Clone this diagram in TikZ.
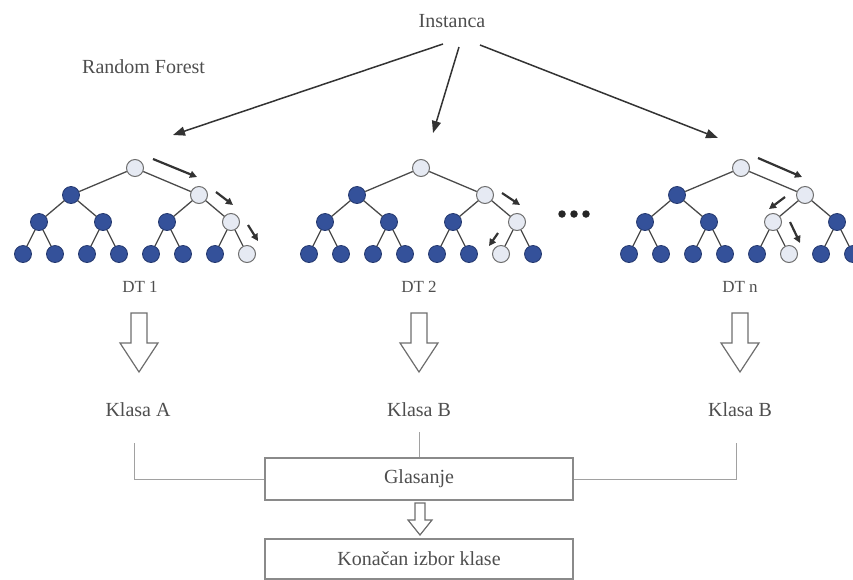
\documentclass[tikz,border=0pt]{standalone}
\usepackage{fontspec}
\setmainfont{Liberation Serif}
\usetikzlibrary{arrows.meta,calc}
\definecolor{txt}{HTML}{4E4E4E}
\definecolor{nodeblue}{HTML}{34519A}
\definecolor{nodeblueline}{HTML}{24386E}
\definecolor{nodelight}{HTML}{E6EAF3}
\definecolor{edgegray}{HTML}{4A4A4A}
\definecolor{boxgray}{HTML}{8A8A8A}
\definecolor{arrowdark}{HTML}{333333}
\tikzset{
  lbl/.style={font=\fontsize{20}{23}\selectfont, text=txt, inner sep=2pt},
  dtlbl/.style={font=\fontsize{17}{20}\selectfont, text=txt, inner sep=2pt},
  dk/.style={circle, minimum size=17pt, inner sep=0pt, fill=nodeblue, draw=nodeblueline, line width=0.8pt},
  lt/.style={circle, minimum size=17pt, inner sep=0pt, fill=nodelight, draw=edgegray!80, line width=1pt},
  edge/.style={draw=edgegray, line width=1.3pt},
  mainarrow/.style={draw=arrowdark, line width=1.5pt, -{Triangle[length=12pt,width=9pt]}},
  tarrow/.style={draw=arrowdark, line width=2.2pt, -{Triangle[length=7pt,width=7pt]}},
  hollow/.style={draw=boxgray!80!black, line width=1.2pt, fill=white, line join=miter},
  conn/.style={draw=boxgray!80, line width=1pt},
  votebox/.style={draw=boxgray, line width=1.6pt, minimum width=308pt, font=\fontsize{20}{23}\selectfont, text=txt},
  bigdown/.pic={\draw[hollow] (-8,0) -- (8,0) -- (8,30) -- (19,30) -- (0,59) -- (-19,30) -- (-8,30) -- cycle;},
  smalldown/.pic={\draw[hollow] (-5,0) -- (5,0) -- (5,17) -- (12,17) -- (0,32) -- (-12,17) -- (-5,17) -- cycle;}
}
\begin{document}
\begin{tikzpicture}[x=1pt,y=-1pt]
\useasboundingbox (0,0) rectangle (853,579);

% titles
\node[lbl] (inst) at (452,21) {Instanca};
\node[lbl, anchor=west] (rf) at (80,67) {Random Forest};

% trees
\foreach \t/\rx/\la/\lb/\lc in {1/135/3/7/15, 2/421/3/7/14, 3/741/3/6/13}{
  \foreach \i/\d/\k in {1/0/0, 2/1/0, 3/1/1, 4/2/0, 5/2/1, 6/2/2, 7/2/3,
                        8/3/0, 9/3/1, 10/3/2, 11/3/3, 12/3/4, 13/3/5, 14/3/6, 15/3/7}{
    \pgfmathsetmacro\xx{\rx + (\k+0.5)*256/(2^\d) - 128}
    \pgfmathsetmacro\yy{{168,195,222,254}[\d]}
    \def\st{dk}
    \ifnum\i=1 \def\st{lt}\fi
    \ifnum\i=\la\relax \def\st{lt}\fi
    \ifnum\i=\lb\relax \def\st{lt}\fi
    \ifnum\i=\lc\relax \def\st{lt}\fi
    \node[\st] (T\t-\i) at (\xx,\yy) {};
  }
  \foreach \i in {2,...,15}{
    \pgfmathtruncatemacro\p{floor(\i/2)}
    \draw[edge] (T\t-\p) -- (T\t-\i);
  }
}

% arrows from the instance
\coordinate (s1) at (443,44);
\coordinate (s2) at (459,47);
\coordinate (s3) at (480,45);
\coordinate (e1) at (173,135);
\coordinate (e2) at (433,133);
\coordinate (e3) at (718,138);
\draw[mainarrow] (s1) -- (e1);
\draw[mainarrow] (s2) -- (e2);
\draw[mainarrow] (s3) -- (e3);

% path arrows in trees
\draw[tarrow] (153,159) -- (197,177);
\draw[tarrow] (216,192) -- (233,205);
\draw[tarrow] (248,225) -- (258,241);
\draw[tarrow] (502,193) -- (520,205);
\draw[tarrow] (498,233) -- (489,246);
\draw[tarrow] (758,158) -- (802,177);
\draw[tarrow] (785,197) -- (769,209);
\draw[tarrow] (790,222) -- (800,243);

% dots
\foreach \x [count=\n] in {562,574,586}{
  \node[circle, fill=black!85, inner sep=0pt, minimum size=7.5pt] (dot\n) at (\x,214) {};
}

% tree labels
\node[dtlbl] (dt1) at (140,287) {DT 1};
\node[dtlbl] (dt2) at (419,287) {DT 2};
\node[dtlbl] (dtn) at (740,287) {DT n};

\pic at (139,313) {bigdown};
\pic at (419,313) {bigdown};
\pic at (740,313) {bigdown};

% classes
\node[lbl] (k1) at (138,410) {Klasa A};
\node[lbl] (k2) at (419,410) {Klasa B};
\node[lbl] (k3) at (740,410) {Klasa B};

% voting
\node[votebox, minimum height=42pt] (glas) at (419,479) {Glasanje};
\node[votebox, minimum height=40pt] (kon) at (419,559) {Konačan izbor klase};

\coordinate (k1b) at (134,443);
\coordinate (k2b) at (419,432);
\coordinate (k3b) at (736,443);
\draw[conn] (k1b) |- (glas.west);
\draw[conn] (k2b) -- (glas.north);
\draw[conn] (k3b) |- (glas.east);

\pic at (420,503) {smalldown};
\end{tikzpicture}
\end{document}
